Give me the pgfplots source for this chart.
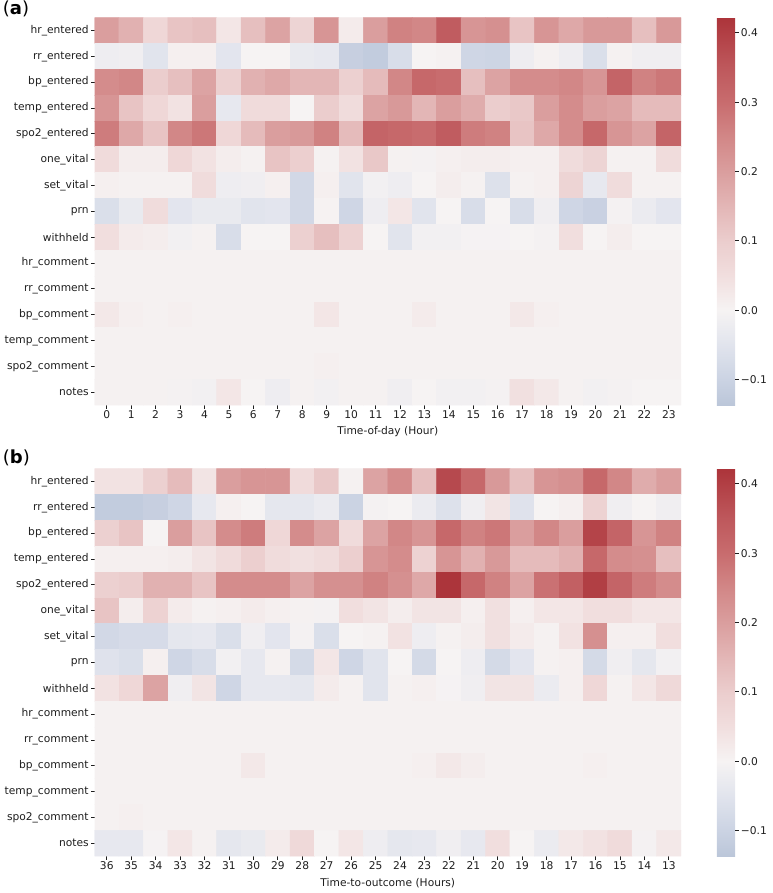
\documentclass[border=0pt]{standalone}
\usepackage{fontspec}
\setmainfont{DejaVu Sans}
\usepackage{pgfplots}
\pgfplotsset{compat=1.18}

\definecolor{tc}{RGB}{30,30,30}

% seaborn vlag, centred at 0, cut to -0.137 .. 0.422 (position = 1000*v + 137)
\pgfplotsset{
  colormap={vlagcut}{
    rgb255(0pt)=(187,198,217)
    rgb255(37pt)=(203,211,227)
    rgb255(87pt)=(225,228,237)
    rgb255(137pt)=(246,243,243)
    rgb255(187pt)=(241,222,222)
    rgb255(237pt)=(235,205,205)
    rgb255(287pt)=(227,182,182)
    rgb255(337pt)=(218,158,158)
    rgb255(387pt)=(210,135,135)
    rgb255(437pt)=(200,108,110)
    rgb255(487pt)=(190,88,92)
    rgb255(559pt)=(172,52,58)
  },
  hm/.style={
    scale only axis, width=439.9pt, height=290.7pt,
    xmin=-0.5, xmax=23.5, ymin=-0.5, ymax=14.5, y dir=reverse,
    axis line style={draw=none},
    tick align=outside, xtick pos=bottom, ytick pos=left,
    major tick length=2.6pt,
    tick style={color=tc, line width=0.6pt},
    xtick={0,...,23}, ytick={0,...,14},
    yticklabels={hr\_entered,rr\_entered,bp\_entered,temp\_entered,spo2\_entered,one\_vital,set\_vital,prn,withheld,hr\_comment,rr\_comment,bp\_comment,temp\_comment,spo2\_comment,notes},
    ticklabel style={font=\fontsize{8}{9.6}\selectfont, text=tc},
    yticklabel style={inner sep=1.6pt},
    xticklabel style={inner sep=1.6pt},
    xlabel style={font=\fontsize{8}{9.6}\selectfont, text=tc, at={(axis description cs:0.5,0)}, anchor=center, yshift=-19.9pt},
    colormap name=vlagcut,
    point meta min=-0.137, point meta max=0.422,
    colorbar,
    colorbar style={
      at={(1.0609,0)}, anchor=south west, width=13.7pt,
      ytick={-0.1,0,0.1,0.2,0.3,0.4},
      yticklabels={−0.1,0.0,0.1,0.2,0.3,0.4},
      ytick pos=right, yticklabel pos=right, tick align=outside,
      axis line style={draw=none},
      major tick length=2.6pt,
      tick style={color=tc, line width=0.6pt},
      ticklabel style={font=\fontsize{8}{9.6}\selectfont, text=tc, inner sep=1.6pt},
    },
  },
  cells/.style={matrix plot*, mesh/cols=24, point meta=explicit},
}

\begin{document}
\begin{tikzpicture}
\useasboundingbox (0,0) rectangle (579pt,669.75pt);

% (a) time of day
\begin{axis}[hm, at={(70.9pt,365.9pt)}, anchor=south west,
  xticklabels={0,1,2,3,4,5,6,7,8,9,10,11,12,13,14,15,16,17,18,19,20,21,22,23},
  xlabel={Time-of-day (Hour)}]
\addplot[cells] table[header=false, row sep=\\, x expr={\coordindex-24*floor((\coordindex+0.5)/24)}, y expr={floor((\coordindex+0.5)/24)}, meta index=0] {
0.20\\0.16\\0.07\\0.12\\0.13\\0.03\\0.13\\0.19\\0.08\\0.22\\0.02\\0.20\\0.26\\0.25\\0.34\\0.22\\0.23\\0.12\\0.22\\0.18\\0.21\\0.21\\0.13\\0.21\\
-0.02\\-0.015\\-0.05\\0.01\\0.01\\-0.045\\0.0\\0.0\\-0.03\\-0.035\\-0.11\\-0.12\\-0.07\\0.0\\0.005\\-0.09\\-0.095\\-0.02\\0.005\\-0.02\\-0.065\\0.005\\-0.015\\-0.015\\
0.24\\0.25\\0.10\\0.13\\0.19\\0.09\\0.16\\0.18\\0.15\\0.15\\0.09\\0.14\\0.25\\0.31\\0.30\\0.13\\0.19\\0.24\\0.24\\0.25\\0.22\\0.32\\0.26\\0.28\\
0.22\\0.12\\0.07\\0.04\\0.20\\-0.035\\0.06\\0.06\\0.0\\0.10\\0.055\\0.19\\0.21\\0.15\\0.20\\0.17\\0.10\\0.11\\0.20\\0.24\\0.20\\0.19\\0.14\\0.14\\
0.27\\0.18\\0.12\\0.25\\0.28\\0.07\\0.14\\0.20\\0.21\\0.26\\0.14\\0.32\\0.31\\0.30\\0.34\\0.27\\0.26\\0.12\\0.18\\0.24\\0.31\\0.22\\0.19\\0.32\\
0.06\\0.015\\0.015\\0.07\\0.04\\0.015\\0.005\\0.12\\0.095\\0.005\\0.04\\0.11\\0.005\\-0.005\\0.01\\0.015\\0.015\\0.01\\0.01\\0.055\\0.08\\0.005\\0.005\\0.055\\
0.01\\0.005\\0.005\\0.005\\0.055\\-0.02\\-0.015\\0.01\\-0.085\\0.01\\-0.05\\-0.01\\-0.02\\0.0\\0.015\\0.005\\-0.06\\0.005\\0.01\\0.08\\-0.035\\0.055\\0.005\\0.005\\
-0.065\\-0.03\\0.055\\-0.045\\-0.03\\-0.03\\-0.05\\-0.045\\-0.085\\0.003\\-0.09\\-0.02\\0.03\\-0.05\\0.0\\-0.07\\0.0\\-0.07\\-0.015\\-0.09\\-0.105\\-0.005\\-0.025\\-0.045\\
0.05\\0.02\\0.015\\-0.01\\0.005\\-0.07\\0.0\\0.0\\0.09\\0.13\\0.085\\0.0\\-0.05\\-0.01\\-0.01\\-0.003\\-0.003\\0.0\\-0.005\\0.05\\0.0\\0.015\\0.0\\0.0\\
0.005\\0.005\\0.005\\0.005\\0.005\\0.005\\0.005\\0.005\\0.005\\0.005\\0.005\\0.005\\0.005\\0.005\\0.005\\0.005\\0.005\\0.005\\0.005\\0.005\\0.005\\0.005\\0.005\\0.005\\
0.005\\0.005\\0.005\\0.005\\0.005\\0.005\\0.005\\0.005\\0.005\\0.005\\0.005\\0.005\\0.005\\0.005\\0.005\\0.005\\0.005\\0.005\\0.005\\0.005\\0.005\\0.005\\0.005\\0.005\\
0.025\\0.01\\0.005\\0.01\\0.005\\0.005\\0.005\\0.005\\0.005\\0.03\\0.005\\0.005\\0.005\\0.02\\0.005\\0.005\\0.005\\0.025\\0.01\\0.005\\0.005\\0.005\\0.005\\0.005\\
0.005\\0.005\\0.005\\0.005\\0.005\\0.005\\0.005\\0.005\\0.005\\0.005\\0.005\\0.005\\0.005\\0.005\\0.005\\0.005\\0.005\\0.005\\0.005\\0.005\\0.005\\0.005\\0.005\\0.005\\
0.005\\0.005\\0.005\\0.005\\0.005\\0.005\\0.005\\0.005\\0.005\\0.01\\0.005\\0.005\\0.005\\0.005\\0.005\\0.005\\0.005\\0.005\\0.005\\0.005\\0.005\\0.005\\0.005\\0.005\\
0.005\\0.005\\0.005\\-0.005\\-0.01\\0.03\\0.0\\-0.02\\0.005\\-0.01\\0.005\\0.005\\-0.015\\0.0\\-0.01\\-0.01\\-0.005\\0.045\\0.025\\0.005\\-0.01\\-0.005\\0.0\\0.0\\
};
\end{axis}

% (b) time to outcome
\begin{axis}[hm, at={(70.9pt,27.6pt)}, anchor=south west,
  xticklabels={36,35,34,33,32,31,30,29,28,27,26,25,24,23,22,21,20,19,18,17,16,15,14,13},
  xlabel={Time-to-outcome (Hours)}]
\addplot[cells] table[header=false, row sep=\\, x expr={\coordindex-24*floor((\coordindex+0.5)/24)}, y expr={floor((\coordindex+0.5)/24)}, meta index=0] {
0.04\\0.04\\0.09\\0.14\\0.035\\0.20\\0.22\\0.22\\0.06\\0.11\\0.005\\0.19\\0.24\\0.13\\0.38\\0.31\\0.21\\0.13\\0.22\\0.23\\0.31\\0.25\\0.17\\0.20\\
-0.12\\-0.12\\-0.11\\-0.09\\-0.035\\0.01\\0.0\\-0.04\\-0.04\\-0.025\\-0.10\\-0.005\\0.0\\-0.025\\-0.06\\-0.015\\0.035\\-0.055\\0.0\\0.01\\0.085\\-0.015\\0.0\\-0.015\\
0.09\\0.12\\0.0\\0.20\\0.12\\0.24\\0.27\\0.07\\0.24\\0.19\\0.06\\0.19\\0.25\\0.22\\0.31\\0.26\\0.28\\0.20\\0.25\\0.20\\0.39\\0.32\\0.22\\0.26\\
0.01\\0.01\\0.01\\0.015\\0.035\\0.06\\0.095\\0.055\\0.045\\0.055\\0.095\\0.22\\0.24\\0.085\\0.22\\0.16\\0.21\\0.14\\0.14\\0.16\\0.31\\0.24\\0.23\\0.13\\
0.09\\0.10\\0.16\\0.16\\0.12\\0.24\\0.24\\0.24\\0.19\\0.23\\0.23\\0.26\\0.23\\0.18\\0.42\\0.31\\0.26\\0.19\\0.29\\0.33\\0.40\\0.32\\0.27\\0.24\\
0.12\\0.015\\0.085\\0.02\\0.005\\0.01\\0.02\\0.01\\0.005\\-0.005\\0.05\\0.035\\0.015\\0.035\\0.035\\0.01\\0.045\\0.01\\0.03\\0.03\\0.05\\0.05\\0.03\\0.03\\
-0.085\\-0.075\\-0.075\\-0.04\\-0.035\\-0.065\\-0.015\\-0.045\\-0.005\\-0.065\\0.0\\0.005\\0.04\\-0.02\\0.005\\0.015\\0.045\\0.02\\0.005\\0.04\\0.23\\0.01\\0.01\\0.05\\
-0.055\\-0.065\\0.01\\-0.09\\-0.07\\-0.01\\-0.035\\0.005\\-0.08\\0.03\\-0.09\\-0.05\\0.0\\-0.08\\0.0\\-0.02\\-0.08\\-0.045\\0.005\\0.01\\-0.08\\-0.015\\-0.04\\-0.01\\
0.04\\0.07\\0.19\\-0.015\\0.035\\-0.09\\-0.035\\-0.035\\-0.04\\0.02\\0.005\\-0.05\\0.005\\0.01\\-0.003\\-0.015\\0.035\\0.035\\-0.025\\0.01\\0.07\\0.005\\0.03\\0.065\\
0.005\\0.005\\0.005\\0.005\\0.005\\0.005\\0.005\\0.005\\0.005\\0.005\\0.005\\0.005\\0.005\\0.005\\0.005\\0.005\\0.005\\0.005\\0.005\\0.005\\0.005\\0.005\\0.005\\0.005\\
0.005\\0.005\\0.005\\0.005\\0.005\\0.005\\0.005\\0.005\\0.005\\0.005\\0.005\\0.005\\0.005\\0.005\\0.005\\0.005\\0.005\\0.005\\0.005\\0.005\\0.005\\0.005\\0.005\\0.005\\
0.005\\0.005\\0.005\\0.005\\0.005\\0.005\\0.025\\0.005\\0.005\\0.005\\0.005\\0.005\\0.005\\0.01\\0.025\\0.015\\0.005\\0.005\\0.005\\0.005\\0.01\\0.005\\0.005\\0.005\\
0.005\\0.005\\0.005\\0.005\\0.005\\0.005\\0.005\\0.005\\0.005\\0.005\\0.005\\0.005\\0.005\\0.005\\0.005\\0.005\\0.005\\0.005\\0.005\\0.005\\0.005\\0.005\\0.005\\0.005\\
0.005\\0.01\\0.005\\0.005\\0.005\\0.005\\0.005\\0.005\\0.005\\0.005\\0.005\\0.005\\0.005\\0.005\\0.005\\0.005\\0.005\\0.005\\0.005\\0.005\\0.005\\0.005\\0.005\\0.005\\
-0.035\\-0.035\\-0.003\\0.03\\0.005\\-0.04\\-0.03\\0.02\\0.065\\0.0\\0.03\\-0.02\\-0.04\\-0.035\\-0.015\\-0.035\\0.05\\0.0\\-0.025\\0.025\\0.04\\0.06\\-0.005\\0.025\\
};
\end{axis}

\node[anchor=base west, font=\fontsize{13.5}{16}\selectfont, text=black, inner sep=0pt] at (2pt,659.2pt) {(\textbf{a})};
\node[anchor=base west, font=\fontsize{13.5}{16}\selectfont, text=black, inner sep=0pt] at (2pt,321.8pt) {(\textbf{b})};
\end{tikzpicture}
\end{document}
